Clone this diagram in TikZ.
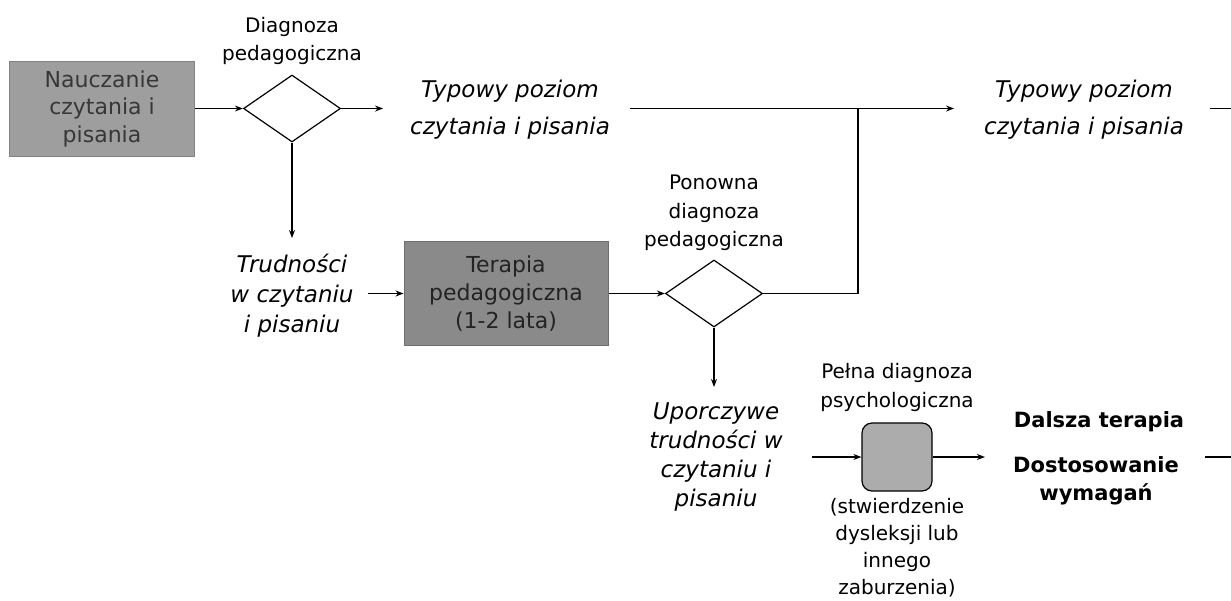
\documentclass[tikz,border=0pt]{standalone}
\usepackage{fontspec}
\setmainfont{DejaVu Sans}
\usetikzlibrary{shapes.geometric,arrows.meta}
\definecolor{boxAfill}{RGB}{158,158,158}
\definecolor{boxAdraw}{RGB}{130,130,130}
\definecolor{boxAtext}{RGB}{55,55,55}
\definecolor{boxBfill}{RGB}{138,138,138}
\definecolor{boxBdraw}{RGB}{110,110,110}
\definecolor{boxBtext}{RGB}{35,35,35}
\definecolor{rboxfill}{RGB}{172,172,172}
\begin{document}
\begin{tikzpicture}[x=1pt,y=-1pt,
  conn/.style={line width=1.2pt,black},
  arr/.style={conn,-{Stealth[length=8pt,width=6pt]}},
  lbl/.style={inner sep=0pt,align=center,font=\fontsize{20}{28}\selectfont},
  itx/.style={inner sep=0pt,align=center,font=\fontsize{23}{30}\selectfont\itshape},
  bld/.style={inner sep=0pt,align=center,font=\fontsize{21}{28}\selectfont\bfseries},
  dec/.style={draw,line width=1.2pt,diamond,minimum width=97pt,minimum height=67pt,inner sep=0pt},
  procA/.style={draw=boxAdraw,line width=1pt,fill=boxAfill,text=boxAtext,minimum width=185pt,minimum height=95pt,align=center,inner sep=0pt,font=\fontsize{22}{27.5}\selectfont},
  procB/.style={draw=boxBdraw,line width=1pt,fill=boxBfill,text=boxBtext,minimum width=204pt,minimum height=104pt,align=center,inner sep=0pt,font=\fontsize{22}{28}\selectfont},
  procC/.style={draw,line width=1.2pt,fill=rboxfill,rounded corners=10pt,minimum width=70pt,minimum height=68pt,inner sep=0pt}
]
\useasboundingbox (0,0) rectangle (1231,600);
\fill[white] (0,0) rectangle (1231,600);

% nodes
\node[procA] (box1) at (102,108.5) {Nauczanie\\czytania i\\pisania};
\node[dec] (d1) at (292,108.5) {};
\node[lbl] (lab1) at (292,41) {Diagnoza\\pedagogiczna};
\node[itx,font=\fontsize{23}{37}\selectfont\itshape] (typ1) at (510,110) {Typowy poziom\\czytania i pisania};
\node[itx,font=\fontsize{23}{37}\selectfont\itshape] (typ2) at (1084,110) {Typowy poziom\\czytania i pisania};
\node[itx] (trud) at (292,296) {Trudności\\w czytaniu\\i pisaniu};
\node[procB] (box2) at (506,293.5) {Terapia\\pedagogiczna\\(1-2 lata)};
\node[dec] (d2) at (714,293.5) {};
\node[lbl,font=\fontsize{20}{28.5}\selectfont] (lab2) at (714,213) {Ponowna\\diagnoza\\pedagogiczna};
\node[itx,font=\fontsize{23}{29}\selectfont\itshape] (upor) at (716,457) {Uporczywe\\trudności w\\czytaniu i\\pisaniu};
\node[procC] (rbox) at (897,457) {};
\node[lbl,font=\fontsize{20}{29}\selectfont] (lab3) at (897,387) {Pełna diagnoza\\psychologiczna};
\node[lbl,font=\fontsize{20}{27}\selectfont] (lab4) at (897,548) {(stwierdzenie\\dysleksji lub\\innego\\zaburzenia)};
\node[bld] (dal) at (1099,422) {Dalsza terapia};
\node[bld] (dos) at (1096,481) {Dostosowanie\\wymagań};

% free ends
\coordinate (a1end) at (383,108.5);
\coordinate (l1start) at (630,108.5);
\coordinate (a2end) at (954,108.5);
\coordinate (j) at (858,108.5);
\coordinate (t1s) at (1210,108.5);
\coordinate (t1e) at (1231,108.5);
\coordinate (a3end) at (292,238);
\coordinate (trs) at (368,293.5);
\coordinate (a4end) at (714,387);
\coordinate (ups) at (812,457);
\coordinate (a5end) at (985,457);
\coordinate (t2s) at (1205,457);
\coordinate (t2e) at (1231,457);

% connectors
\draw[arr] (box1.east) -- (d1.west);
\draw[arr] (d1.east) -- (a1end);
\draw[arr] (l1start) -- (a2end);
\draw[conn] (d2.east) -| (j);
\draw[conn] (t1s) -- (t1e);
\draw[arr] (d1.south) -- (a3end);
\draw[arr] (trs) -- (box2.west);
\draw[arr] (box2.east) -- (d2.west);
\draw[arr] (d2.south) -- (a4end);
\draw[arr] (ups) -- (rbox.west);
\draw[arr] (rbox.east) -- (a5end);
\draw[conn] (t2s) -- (t2e);
\end{tikzpicture}
\end{document}
